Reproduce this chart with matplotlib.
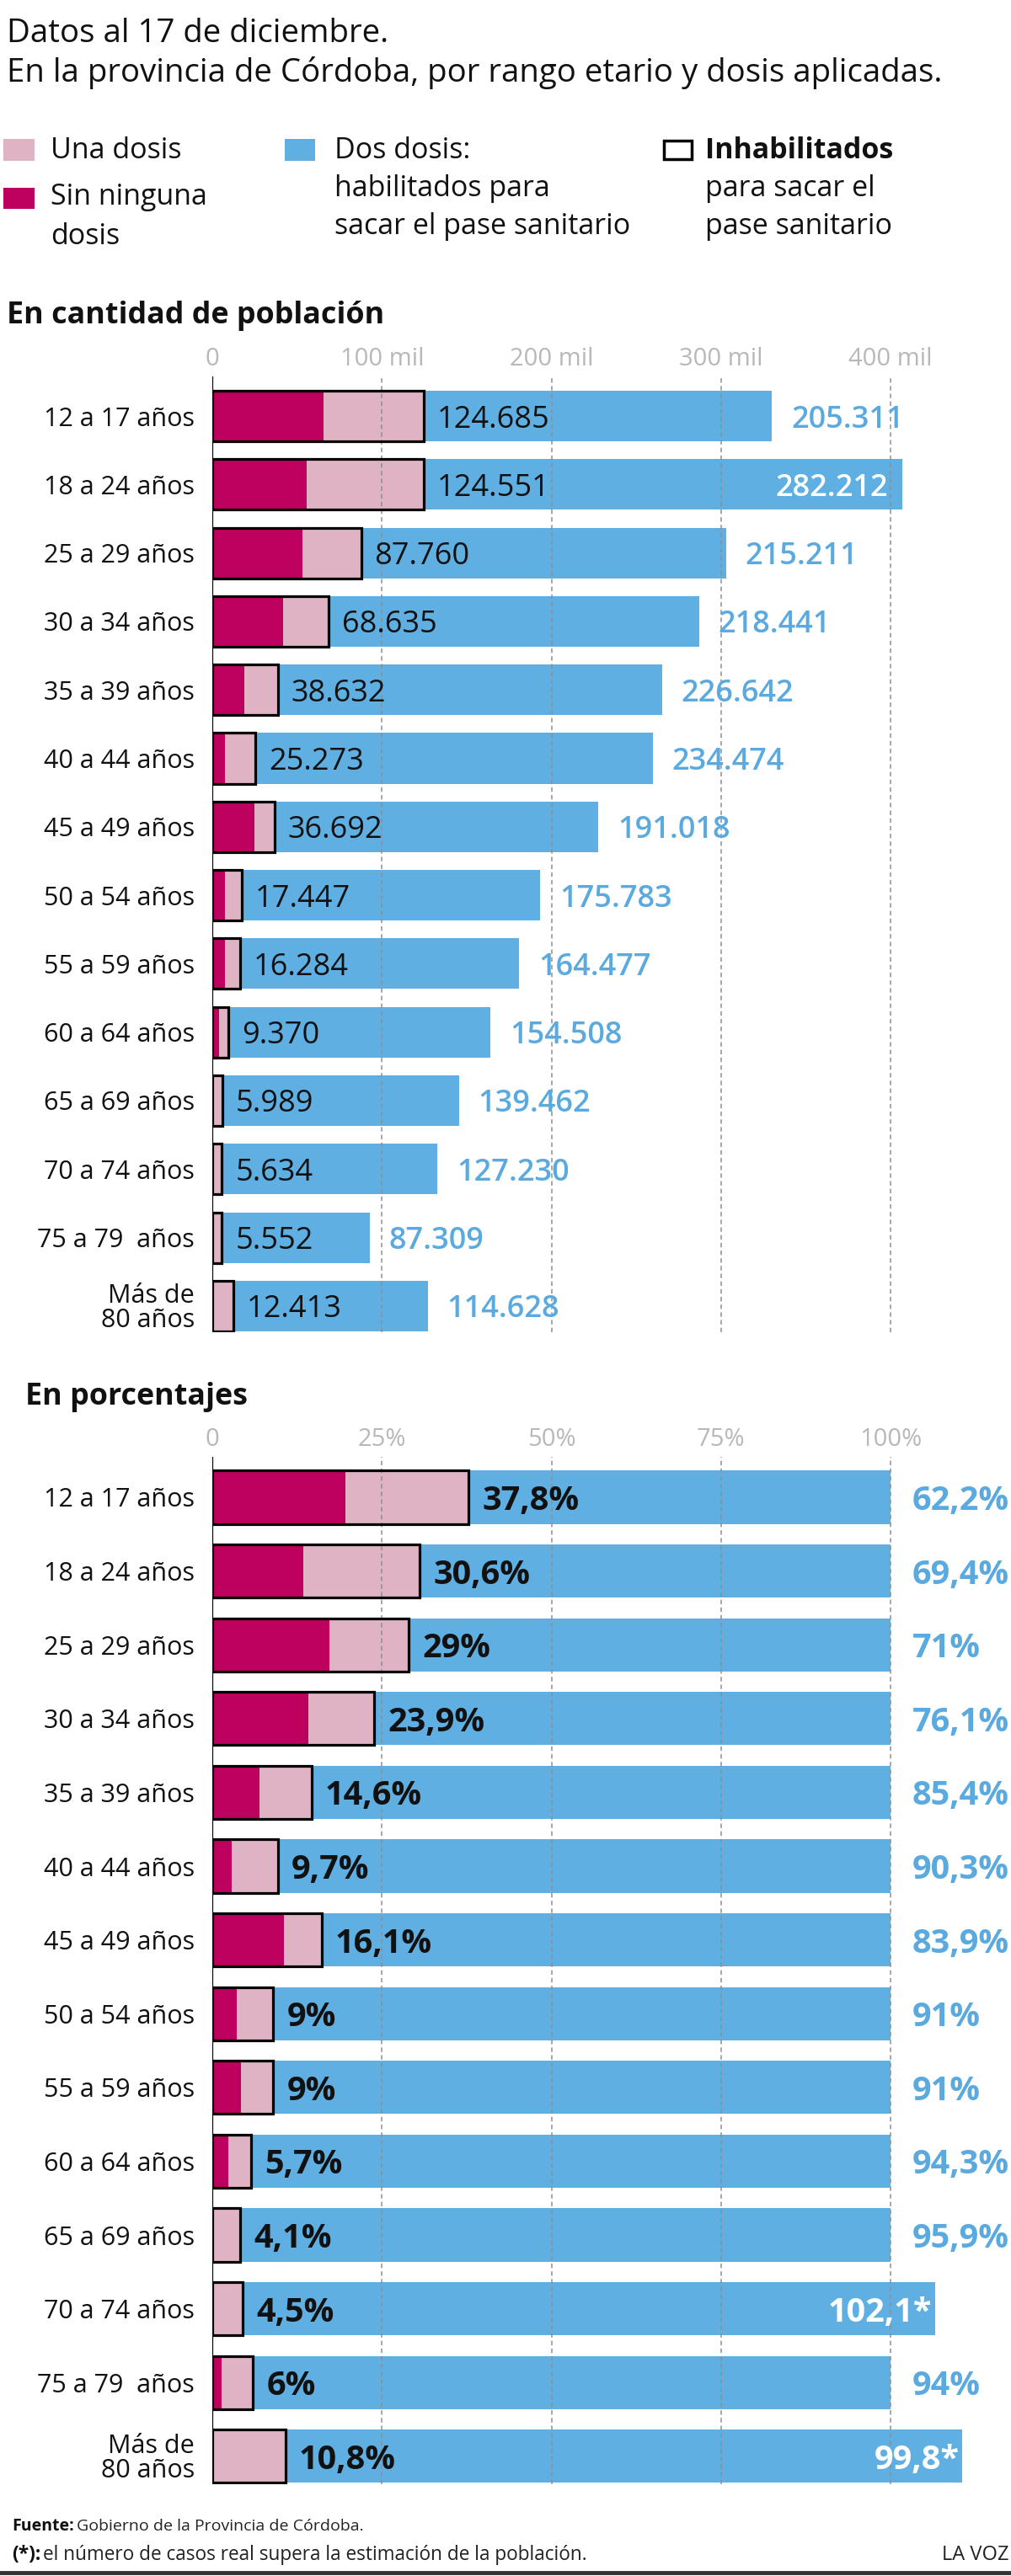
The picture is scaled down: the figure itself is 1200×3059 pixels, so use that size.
import matplotlib
matplotlib.use("Agg")
import matplotlib.pyplot as plt
from matplotlib.patches import Rectangle
from matplotlib.lines import Line2D
from matplotlib.ticker import FuncFormatter
import numpy as np

plt.rcParams['font.family'] = ['Open Sans', 'DejaVu Sans']

# ---------------- data ----------------
categories = ["12 a 17 años", "18 a 24 años", "25 a 29 años", "30 a 34 años",
              "35 a 39 años", "40 a 44 años", "45 a 49 años", "50 a 54 años",
              "55 a 59 años", "60 a 64 años", "65 a 69 años", "70 a 74 años",
              "75 a 79  años", "Más de\n80 años"]

# En cantidad de población
inhabilitados = [124685, 124551, 87760, 68635, 38632, 25273, 36692, 17447,
                 16284, 9370, 5989, 5634, 5552, 12413]
dos_dosis = [205311, 282212, 215211, 218441, 226642, 234474, 191018, 175783,
             164477, 154508, 139462, 127230, 87309, 114628]
sin_dosis = [65400, 55500, 53200, 41700, 19100, 7700, 24900, 7300, 7700,
             4200, 0, 0, 1200, 0]

# En porcentajes
inh_pct = [37.8, 30.6, 29, 23.9, 14.6, 9.7, 16.1, 9, 9, 5.7, 4.1, 4.5, 6, 10.8]
dos_pct = [62.2, 69.4, 71, 76.1, 85.4, 90.3, 83.9, 91, 91, 94.3, 95.9, 102.1, 94, 99.8]
sin_pct = [19.6, 13.4, 17.3, 14.1, 7.0, 2.9, 10.5, 3.6, 4.2, 2.3, 0, 0, 1.4, 0]
supera = [False] * 11 + [True, False, True]   # (*) casos > estimación

count_ticks = [0, 100000, 200000, 300000, 400000]
pct_ticks = [0, 25, 50, 75, 100]

# ---------------- style ----------------
MAGENTA = '#BE005E'
PINK = '#DFB2C4'
BLUE = '#5FAFE2'
BLUE_TXT = '#5AAAE0'
GRID = '#8f8f8f'
TICK = '#b8b8b8'
TXT = '#111111'

W, H, DPI = 1200, 3059, 100
fig = plt.figure(figsize=(W / DPI, H / DPI), dpi=DPI)
PX = 72.0 / DPI  # points per pixel


def fx(x):
    return x / W


def fy(y):
    return 1 - y / H


def rect_axes(left, top, right, bottom):
    return [fx(left), fy(bottom), (right - left) / W, (bottom - top) / H]


def draw_panel(ax, inh, dos, sin, height, ticks, tickfmt, xmax, ylim):
    y = np.arange(len(categories))
    una = [a - b for a, b in zip(inh, sin)]
    ax.barh(y, sin, height=height, color=MAGENTA, zorder=2, linewidth=0)
    ax.barh(y, una, left=sin, height=height, color=PINK, zorder=2, linewidth=0)
    ax.barh(y, dos, left=inh, height=height, color=BLUE, zorder=2, linewidth=0)
    for t in ticks[1:]:
        ax.axvline(t, color=GRID, lw=1.1, ls=(0, (3.5, 2.5)), zorder=3)
    ax.axvline(0, color='black', lw=1.6, zorder=3)
    ax.barh(y, inh, height=height, fill=False, edgecolor='black',
            linewidth=2.3, zorder=4)
    ax.set_xlim(0, xmax)
    ax.set_ylim(*ylim)
    ax.set_xticks(ticks)
    ax.xaxis.set_major_formatter(FuncFormatter(tickfmt))
    ax.xaxis.tick_top()
    ax.tick_params(axis='x', length=0, pad=4.5, labelsize=21, labelcolor=TICK)
    ax.set_yticks(y)
    ax.set_yticklabels(categories)
    ax.tick_params(axis='y', length=0, pad=15, labelsize=22, labelcolor=TXT)
    for lab in ax.get_yticklabels():
        lab.set_linespacing(0.95)
    for s in ax.spines.values():
        s.set_visible(False)
    ax.set_facecolor('none')


# ---------------- panel 1: cantidades ----------------
ax1 = fig.add_axes(rect_axes(252, 447, 1200, 1582))
row0, step1 = 494, 81.3
ylim1 = ((1582 - row0) / step1, (447 - row0) / step1)
xmax1 = (1200 - 252) / 201.25 * 100000
draw_panel(ax1, inhabilitados, dos_dosis, sin_dosis, 0.74, count_ticks,
           lambda v, p: "0" if v == 0 else f"{int(v / 1000)} mil", xmax1, ylim1)


def fmt_num(v):
    return f"{v:,}".replace(",", ".")


for i in range(len(categories)):
    ax1.annotate(fmt_num(inhabilitados[i]), xy=(inhabilitados[i], i),
                 xytext=(16 * PX, 0), textcoords='offset points',
                 ha='left', va='center_baseline', fontsize=26,
                 fontweight='medium', color=TXT, zorder=6)
    total = inhabilitados[i] + dos_dosis[i]
    if total > 400000:
        ax1.annotate(fmt_num(dos_dosis[i]), xy=(total, i),
                     xytext=(-17 * PX, 0), textcoords='offset points',
                     ha='right', va='center_baseline', fontsize=26,
                     fontweight='semibold', color='white', zorder=6)
    else:
        ax1.annotate(fmt_num(dos_dosis[i]), xy=(total, i),
                     xytext=(23 * PX, 0), textcoords='offset points',
                     ha='left', va='center_baseline', fontsize=26,
                     fontweight='semibold', color=BLUE_TXT, zorder=6)

# ---------------- panel 2: porcentajes ----------------
ax2 = fig.add_axes(rect_axes(252, 1730, 1200, 2950))
row0b, step2 = 1778, 87.6
ylim2 = ((2950 - row0b) / step2, (1730 - row0b) / step2)
xmax2 = (1200 - 252) / 8.05
draw_panel(ax2, inh_pct, dos_pct, sin_pct, 0.72, pct_ticks,
           lambda v, p: "0" if v == 0 else f"{int(v)}%", xmax2, ylim2)


def fmt_pct(v):
    return f"{v:g}".replace(".", ",")


PCT_FS = 28.5
for i in range(len(categories)):
    ax2.annotate(fmt_pct(inh_pct[i]) + "%", xy=(inh_pct[i], i),
                 xytext=(16 * PX, 0), textcoords='offset points',
                 ha='left', va='center_baseline', fontsize=PCT_FS,
                 fontweight='bold', color=TXT, zorder=6)
    if supera[i]:
        end = inh_pct[i] + dos_pct[i]
        ax2.annotate(fmt_pct(dos_pct[i]) + "*", xy=(end, i),
                     xytext=(-4 * PX, 0), textcoords='offset points',
                     ha='right', va='center_baseline', fontsize=PCT_FS,
                     fontweight='bold', color='white', zorder=6)
    else:
        ax2.annotate(fmt_pct(dos_pct[i]) + "%", xy=(100, i),
                     xytext=(26 * PX, 0), textcoords='offset points',
                     ha='left', va='center_baseline', fontsize=PCT_FS,
                     fontweight='bold', color=BLUE_TXT, zorder=6)

# ---------------- titles & legend ----------------
TITLE_FS = 27.6
fig.text(fx(8), fy(50), "Datos al 17 de diciembre.", fontsize=TITLE_FS,
         va='baseline', ha='left', color=TXT)
fig.text(fx(8), fy(97), "En la provincia de Córdoba, por rango etario y dosis aplicadas.",
         fontsize=TITLE_FS, va='baseline', ha='left', color=TXT)


def rect_px(x0, y0, x1, y1, **kw):
    r = Rectangle((fx(x0), fy(y1)), (x1 - x0) / W, (y1 - y0) / H,
                  transform=fig.transFigure, **kw)
    fig.add_artist(r)


LEG = 24.5
rect_px(4, 165, 41, 191, color=PINK, lw=0)
fig.text(fx(60), fy(188), "Una dosis", fontsize=LEG, va='baseline', color=TXT)
rect_px(4, 223, 41, 248, color=MAGENTA, lw=0)
fig.text(fx(60), fy(243), "Sin ninguna", fontsize=LEG, va='baseline', color=TXT)
fig.text(fx(60), fy(290), "dosis", fontsize=LEG, va='baseline', color=TXT)

rect_px(338, 165, 374, 191, color=BLUE, lw=0)
fig.text(fx(397), fy(188), "Dos dosis:", fontsize=LEG, va='baseline', color=TXT)
fig.text(fx(397), fy(233), "habilitados para", fontsize=LEG, va='baseline', color=TXT)
fig.text(fx(397), fy(278), "sacar el pase sanitario", fontsize=LEG, va='baseline', color=TXT)

rect_px(788, 167, 821, 189, facecolor='white', edgecolor='black', lw=2.5)
fig.text(fx(837), fy(188), "Inhabilitados", fontsize=LEG, fontweight='bold',
         va='baseline', color=TXT)
fig.text(fx(837), fy(233), "para sacar el", fontsize=LEG, va='baseline', color=TXT)
fig.text(fx(837), fy(278), "pase sanitario", fontsize=LEG, va='baseline', color=TXT)

fig.text(fx(8), fy(384), "En cantidad de población", fontsize=25.8,
         fontweight='bold', va='baseline', color=TXT)
fig.text(fx(30), fy(1668), "En porcentajes", fontsize=25.8,
         fontweight='bold', va='baseline', color=TXT)

# ---------------- footer ----------------
renderer = fig.canvas.get_renderer()
t1 = fig.text(fx(14), fy(3005), "Fuente:", fontsize=14, fontweight='bold',
              va='baseline', color=TXT)
bb = t1.get_window_extent(renderer=renderer)
fig.text(bb.x1 / W + 3 / W, fy(3005), "Gobierno de la Provincia de Córdoba.",
         fontsize=14, va='baseline', color='#222222')
t2 = fig.text(fx(14), fy(3040), "(*):", fontsize=16.3, fontweight='bold',
              va='baseline', color=TXT)
bb2 = t2.get_window_extent(renderer=renderer)
fig.text(bb2.x1 / W + 3 / W, fy(3040),
         "el número de casos real supera la estimación de la población.",
         fontsize=16.3, va='baseline', color='#222222')
fig.text(fx(1198), fy(3040), "LA VOZ", fontsize=17, va='baseline', ha='right',
         color='#222222')
fig.add_artist(Line2D([0, 1], [fy(3055), fy(3055)], color='#333333', lw=3.5,
                      transform=fig.transFigure))

fig.savefig("out.png", dpi=DPI, facecolor='white')
